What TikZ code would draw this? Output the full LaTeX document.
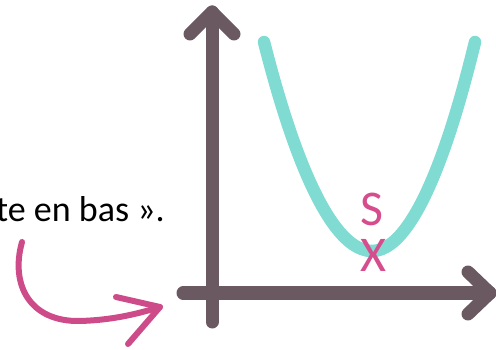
\documentclass[tikz,border=0pt]{standalone}
\usepackage{fontspec}
\setmainfont{Carlito}
\definecolor{axiscol}{RGB}{106,89,97}
\definecolor{curvecol}{RGB}{128,219,211}
\definecolor{pinkcol}{RGB}{205,75,137}
\definecolor{labelcol}{RGB}{214,76,140}
\begin{document}
\begin{tikzpicture}[x=1pt,y=-1pt,
  axisline/.style={draw=axiscol,line width=13pt,line cap=round,line join=round},
  curveline/.style={draw=curvecol,line width=12.5pt,line cap=round},
  pinkline/.style={draw=pinkcol,line width=6pt,line cap=round,line join=round},
  lbl/.style={text=labelcol,font=\fontsize{50}{50}\selectfont,inner sep=0pt},
  txt/.style={text=black,font=\fontsize{36}{36}\selectfont,inner sep=0pt,anchor=base east}]
\useasboundingbox (0,0) rectangle (496,350);
% axes
\coordinate (yb) at (212,322);
\coordinate (yt) at (212,12);
\coordinate (xl) at (183,293);
\coordinate (xr) at (490,293);
\draw[axisline] (yb) -- (yt);
\draw[axisline] (190,34) -- (yt) -- (234,34);
\draw[axisline] (xl) -- (xr);
\draw[axisline] (468,272) -- (xr) -- (468,314);
% parabola
\coordinate (pl) at (264,42);
\coordinate (pv) at (372,251);
\coordinate (pr) at (475,42);
\draw[curveline] (pl) parabola bend (pv) (pr);
% labels
\node[lbl] (s) at (372,209) {S};
\node[lbl] (x) at (373,255) {X};
% text
\begin{scope}
\clip (0,0) rectangle (496,350);
\node[txt] (t) at (165,222) {te en bas ».};
\end{scope}
% pink arrow
\coordinate (a0) at (22,242);
\coordinate (a1) at (160,307);
\draw[pinkline] (a0) .. controls (10,285) and (30,322) .. (80,321) .. controls (115,320) and (140,313) .. (a1);
\draw[pinkline] (116,297) -- (a1) -- (128,344);
\end{tikzpicture}
\end{document}
